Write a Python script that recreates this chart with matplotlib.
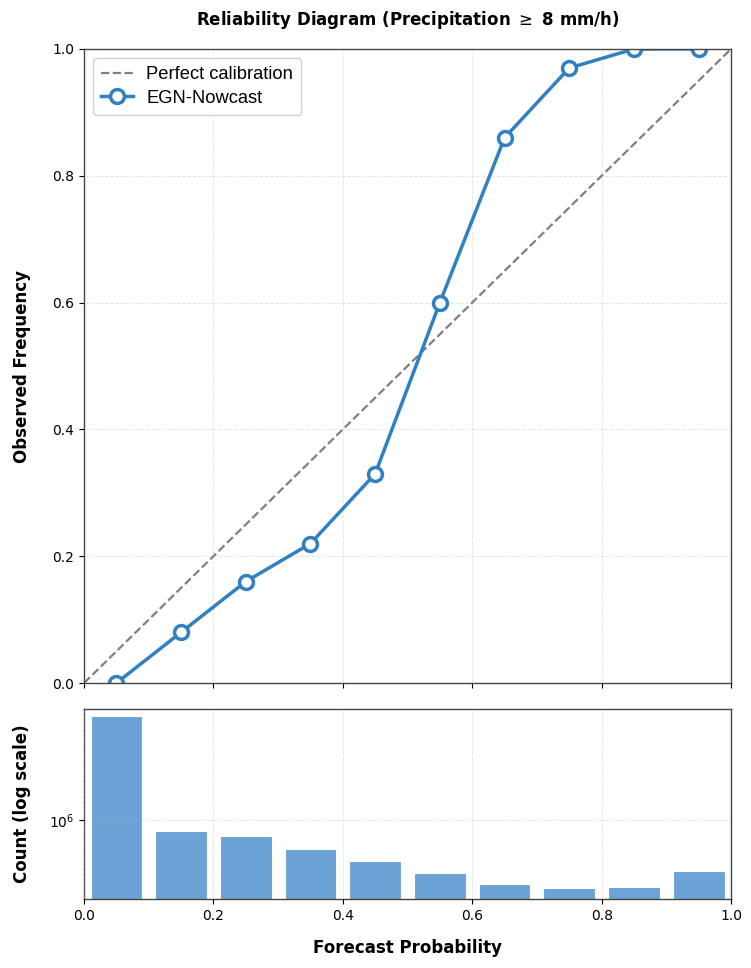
import numpy as np
import matplotlib
matplotlib.use("Agg")
import matplotlib.pyplot as plt
from matplotlib.ticker import LogLocator, NullLocator

# reliability curve (bin centres -> observed frequency)
bin_centers = [0.05, 0.15, 0.25, 0.35, 0.45, 0.55, 0.65, 0.75, 0.85, 0.95]
obs_freq = [0.0, 0.08, 0.16, 0.22, 0.33, 0.60, 0.86, 0.97, 1.0, 1.0]
# forecast counts per bin
counts = [5.2e6, 8.4e5, 7.8e5, 6.3e5, 5.2e5, 4.3e5, 3.6e5, 3.4e5, 3.45e5, 4.45e5]

LINE = "#3180c2"
BAR = "#6ba3d6"
SPINE = "#444444"

fig = plt.figure(figsize=(7.51, 9.68), dpi=100)
ax = fig.add_axes([0.1119, 0.2944, 0.8615, 0.655])
axh = fig.add_axes([0.1119, 0.0713, 0.8615, 0.1963], sharex=ax)

ax.plot([0, 1], [0, 1], ls="--", color="gray", lw=1.6, label="Perfect calibration")
ax.plot(bin_centers, obs_freq, "-o", color=LINE, lw=2.5, ms=10,
        mfc="white", mec=LINE, mew=2.5, label="EGN-Nowcast")
ax.set_xlim(0, 1)
ax.set_ylim(0, 1)
ax.set_ylabel("Observed Frequency", fontsize=12, fontweight="bold", labelpad=15)
ax.set_title("Reliability Diagram (Precipitation $\\geq$ 8 mm/h)",
             fontsize=12, fontweight="bold", pad=17)
ax.grid(True, ls="--", lw=0.7, alpha=0.3)
ax.tick_params(labelbottom=False, labelsize=10)
leg = ax.legend(loc="upper left", prop={"family": "Liberation Sans", "size": 13.2},
                framealpha=0.9, edgecolor="#cccccc", handlelength=1.7,
                handletextpad=0.75, labelspacing=0.35, borderpad=0.45)

axh.bar(bin_centers, counts, width=0.08, color=BAR, edgecolor="white", lw=0.8, bottom=0)
axh.set_yscale("log")
axh.set_ylim(2.85e5, 5.84e6)
axh.yaxis.set_major_locator(LogLocator(base=10))
axh.yaxis.set_minor_locator(NullLocator())
axh.set_xlim(0, 1)
axh.set_xticks([0.0, 0.2, 0.4, 0.6, 0.8, 1.0])
axh.set_xlabel("Forecast Probability", fontsize=12, fontweight="bold", labelpad=12)
axh.set_ylabel("Count (log scale)", fontsize=12, fontweight="bold", labelpad=13)
axh.set_axisbelow(False)
axh.grid(True, ls="--", lw=0.7, alpha=0.3)
axh.tick_params(labelsize=10)

for a in (ax, axh):
    for s in a.spines.values():
        s.set_edgecolor(SPINE)
        s.set_linewidth(1.0)

fig.savefig("out.png", dpi=100)
